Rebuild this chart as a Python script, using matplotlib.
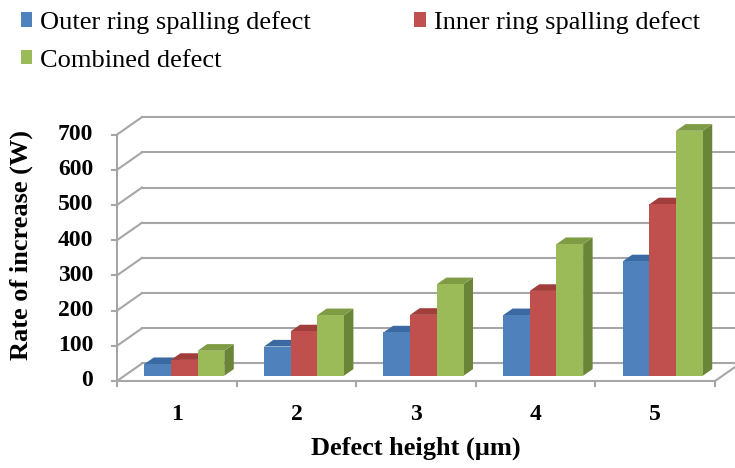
import matplotlib.pyplot as plt
from matplotlib.patches import Polygon, Rectangle

plt.rcParams["font.family"] = ["Liberation Serif", "DejaVu Serif"]

# data
heights = ["1", "2", "3", "4", "5"]
outer_ring = [33, 83, 123, 172, 325]
inner_ring = [45, 126, 173, 241, 487]
combined = [71, 172, 260, 374, 696]
series_names = ["Outer ring spalling defect", "Inner ring spalling defect", "Combined defect"]
y_ticks = [0, 100, 200, 300, 400, 500, 600, 700]

front = ["#4f81bd", "#c0504d", "#9bbb59"]
top = ["#3b6aa3", "#a13d3a", "#7f9c45"]
side = ["#3a5f8f", "#8e3734", "#6b8538"]
grid_col = "#a6a6a6"

# pseudo 3d geometry (category units / value units)
DX, DY = 0.209, 49.7
d0, d1 = 0.30, 0.68
w = 0.223

fig = plt.figure(figsize=(7.35, 4.68), dpi=100)
ax = fig.add_axes([0, 0, 1, 1])
ax.set_xlim(-0.978, 5.167)
ax.set_ylim(-247.2, 1082.4)
ax.axis("off")

n = len(heights)
ymax = y_ticks[-1]

# walls and floor
for v in y_ticks:
    ax.plot([DX, n + DX + 0.5], [v + DY, v + DY], color=grid_col, lw=1.5, zorder=1)
    ax.plot([0, DX], [v, v + DY], color=grid_col, lw=1.5, zorder=1)
    ax.plot([-0.045, 0], [v, v], color=grid_col, lw=1.5, zorder=1)
    ax.text(-0.2, v, str(v), ha="right", va="center", fontsize=17, fontweight="bold")
ax.plot([0, 0], [0, ymax], color=grid_col, lw=1.5, zorder=1)
ax.plot([0, n], [0, 0], color=grid_col, lw=1.5, zorder=1)
ax.plot([n, n + DX], [0, DY], color=grid_col, lw=1.5, zorder=1)
for i in range(n + 1):
    ax.plot([i, i], [0, -14], color=grid_col, lw=1.5, zorder=1)

# bars
dd = d1 - d0
for i in range(n):
    c = i + 0.5 + d0 * DX
    base = d0 * DY
    for k, vals in enumerate([outer_ring, inner_ring, combined]):
        x0 = c + (k - 1.5) * w
        x1 = x0 + w
        yt = base + vals[i]
        ax.add_patch(Polygon([(x1, base), (x1, yt), (x1 + dd * DX, yt + dd * DY),
                              (x1 + dd * DX, base + dd * DY)], closed=True,
                             facecolor=side[k], edgecolor="none", zorder=2))
        ax.add_patch(Polygon([(x0, yt), (x1, yt), (x1 + dd * DX, yt + dd * DY),
                              (x0 + dd * DX, yt + dd * DY)], closed=True,
                             facecolor=top[k], edgecolor="none", zorder=2))
        ax.add_patch(Rectangle((x0, base), w, vals[i], facecolor=front[k],
                               edgecolor="none", zorder=2))
    ax.text(i + 0.5, -95, heights[i], ha="center", va="center", fontsize=17, fontweight="bold")

ax.text(2.5, -190, "Defect height (µm)", ha="center", va="center", fontsize=19, fontweight="bold")
ax.text(-0.80, 386, "Rate of increase (W)", ha="center", va="center", rotation=90,
        fontsize=19, fontweight="bold")

handles = [Rectangle((0, 0), 1, 1, facecolor=front[k], edgecolor="none") for k in range(3)]
order = [0, 2, 1]
fig.legend([handles[k] for k in order], [series_names[k] for k in order],
           loc="upper left", bbox_to_anchor=(0.01, 1.005), ncol=2, frameon=False,
           fontsize=19, handlelength=0.45, handleheight=0.45, handletextpad=0.3,
           columnspacing=3.9, labelspacing=0.6, borderaxespad=0.1)

fig.savefig("out.png", dpi=100)
